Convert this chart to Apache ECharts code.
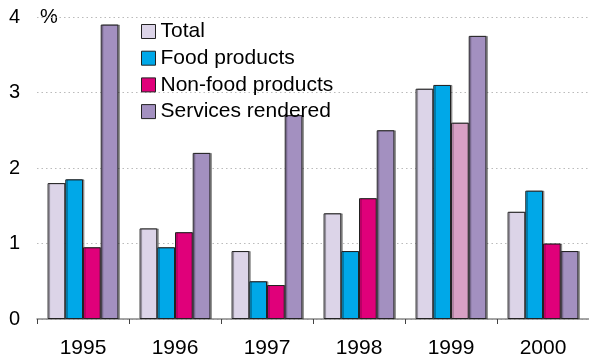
<!DOCTYPE html>
<html><head><meta charset="utf-8">
<script src="https://cdn.jsdelivr.net/npm/echarts@6/dist/echarts.min.js"></script>
<style>html,body{margin:0;padding:0;background:#fff}#c{width:589px;height:363px}</style>
</head><body><div id="c"></div>
<script>
var categories = ['1995','1996','1997','1998','1999','2000'];
var total = [1.8, 1.2, 0.9, 1.4, 3.05, 1.42];
var food = [1.85, 0.95, 0.5, 0.9, 3.1, 1.7];
var nonFood = [0.95, 1.15, 0.45, 1.6, 2.6, 1.0];
var services = [3.9, 2.2, 2.7, 2.5, 3.75, 0.9];
var yTicks = [0, 1, 2, 3, 4];

var font = 'Liberation Sans, Arial, sans-serif';
var border = {borderColor: '#222', borderWidth: 1, shadowColor: 'rgba(0,0,0,0.35)', shadowOffsetX: 1.5, shadowOffsetY: 0, shadowBlur: 0};
function mk(name, data, color) {
  return {name: name, type: 'bar', data: data, barGap: '0%', barCategoryGap: '23%',
    itemStyle: Object.assign({color: color}, border)};
}
var nonFoodData = nonFood.map(function(v, i){
  return categories[i] === '1999' ? {value: v, itemStyle: {color: '#d8a0c4'}} : v;
});
var chart = echarts.init(document.getElementById('c'));
chart.setOption({
  animation: false,
  grid: {left: 37, top: 17, width: 554, bottom: 44, containLabel: false},
  legend: {orient: 'vertical', left: 141, top: 21, padding: 0, itemWidth: 14, itemHeight: 14, itemGap: 5.7,
    icon: 'rect',
    textStyle: {fontFamily: font, fontSize: 21, color: '#000', lineHeight: 21, padding: [0,0,0,0]},
    itemStyle: {borderColor: '#222', borderWidth: 1, shadowBlur: 0, shadowOffsetX: 0},
    data: ['Total','Food products','Non-food products','Services rendered']},
  xAxis: {type: 'category', data: categories,
    axisLine: {lineStyle: {color: '#888', width: 1.5}},
    axisTick: {show: true, length: 5, lineStyle: {color: '#444'}},
    axisLabel: {fontFamily: font, fontSize: 21, color: '#000', margin: 19}},
  yAxis: {type: 'value', min: yTicks[0], max: yTicks[yTicks.length-1], interval: 1,
    axisLine: {show: false}, axisTick: {show: false},
    axisLabel: {fontFamily: font, fontSize: 20, color: '#000', margin: 17},
    splitLine: {lineStyle: {color: '#bbb', type: [1.5, 3], width: 1}}},
  graphic: [{type: 'text', left: 40, top: 7, style: {text: '%', fontFamily: font, fontSize: 20, fill: '#000'}}],
  series: [
    mk('Total', total, '#dcd4e8'),
    mk('Food products', food, '#00a8e8'),
    mk('Non-food products', nonFoodData, '#e0007a'),
    mk('Services rendered', services, '#a390c0')
  ]
});
</script></body></html>
